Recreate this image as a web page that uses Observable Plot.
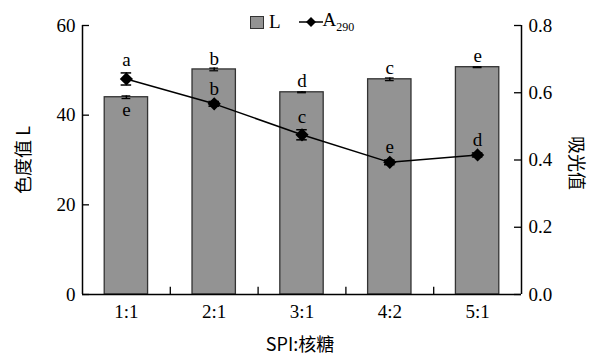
<!DOCTYPE html>
<html><head><meta charset="utf-8">
<script src="https://cdn.jsdelivr.net/npm/d3@7"></script>
<script src="https://cdn.jsdelivr.net/npm/@observablehq/plot@0.6"></script>
<style>
body{margin:0;background:#fff;}
#wrap{position:relative;width:592px;height:356px;font-family:"Liberation Serif",serif;}
#legend{position:absolute;left:250px;top:9px;font-size:19px;display:flex;align-items:center;}
.sw{width:12px;height:11px;background:#939393;border:1px solid #333;display:inline-block;}
</style></head>
<body><div id="wrap"><div id="chart"></div>
<div id="legend"><span class="sw"></span><span style="margin-left:5px">L</span>
<svg width="24" height="12" style="margin-left:18px"><line x1="0" y1="6" x2="24" y2="6" stroke="#000" stroke-width="1.5"/><path d="M12 1 L17 6 L12 11 L7 6Z" fill="#000"/></svg><span>A<sub style="font-size:12px;vertical-align:-5px">290</sub></span></div>
</div>
<script>
const categories = ["1:1","2:1","3:1","4:2","5:1"];
const Lvalues = [44.0, 50.2, 45.1, 48.0, 50.7];
const Lerr = [0.3, 0.3, 0.1, 0.3, 0.1];
const Lletters = ["e","b","d","c","e"];
const Avalues = [0.641, 0.567, 0.475, 0.393, 0.415];
const Aerr = [0.018, 0.007, 0.015, 0.007, 0.006];
const Aletters = ["a","b","c","e","d"];
const leftTicks = [0,20,40,60];
const rightTicks = [0,0.2,0.4,0.6,0.8];

const k = 75; // 0.8 -> 60
const data = categories.map((c,i)=>({i:i+1,c,L:Lvalues[i],le:Lerr[i],ll:Lletters[i],A:Avalues[i]*k,ae:Aerr[i]*k,al:Aletters[i]}));
const serif = "Liberation Serif";
const tk = 0.08; // inward tick length in x units
const chart = Plot.plot({
  width:592, height:356,
  marginLeft:82, marginRight:71, marginTop:25, marginBottom:62,
  style:{fontFamily:serif, fontSize:"19px", color:"#000", background:"#fff"},
  x:{domain:[0.5,5.5]},
  y:{domain:[0,60]},
  marks:[
    Plot.rectY(data,{x1:d=>d.i-0.247,x2:d=>d.i+0.247,y:"L",fill:"#939393",stroke:"#333",strokeWidth:1.3}),
    Plot.ruleX(data,{x:"i",y1:d=>d.L-d.le,y2:d=>d.L+d.le,stroke:"#000",strokeWidth:1.5}),
    Plot.ruleY(data,{x1:d=>d.i-0.05,x2:d=>d.i+0.05,y:d=>d.L+d.le,stroke:"#000",strokeWidth:1.2}),
    Plot.ruleY(data,{x1:d=>d.i-0.05,x2:d=>d.i+0.05,y:d=>d.L-d.le,stroke:"#000",strokeWidth:1.2}),
    Plot.text(data.filter(d=>d.i===1),{x:"i",y:"L",text:"ll",dy:13,fontSize:19,fontFamily:serif}),
    Plot.text(data.filter(d=>d.i!==1),{x:"i",y:"L",text:"ll",dy:-11,fontSize:19,fontFamily:serif}),
    Plot.line(data,{x:"i",y:"A",stroke:"#000",strokeWidth:1.5}),
    Plot.ruleX(data,{x:"i",y1:d=>d.A-d.ae,y2:d=>d.A+d.ae,stroke:"#000",strokeWidth:1.5}),
    Plot.ruleY(data,{x1:d=>d.i-0.06,x2:d=>d.i+0.06,y:d=>d.A+d.ae,stroke:"#000",strokeWidth:1.5}),
    Plot.ruleY(data,{x1:d=>d.i-0.06,x2:d=>d.i+0.06,y:d=>d.A-d.ae,stroke:"#000",strokeWidth:1.5}),
    Plot.dot(data,{x:"i",y:"A",symbol:"diamond2",r:5,fill:"#000",stroke:"#000"}),
    Plot.text(data,{x:"i",y:d=>d.A+d.ae,text:"al",dy:-13,fontSize:19,fontFamily:serif}),
    Plot.ruleX([1.5,2.5,3.5,4.5],{y1:0,y2:1.6,stroke:"#000",strokeWidth:1.3}),
    Plot.ruleY(leftTicks,{x1:0.5,x2:0.5+tk,stroke:"#000",strokeWidth:1.3}),
    Plot.ruleY(rightTicks.map(v=>v*k),{x1:5.5-tk,x2:5.5,stroke:"#000",strokeWidth:1.3}),
    Plot.ruleY([0],{stroke:"#000",strokeWidth:1.5}),
    Plot.axisX({ticks:categories.map((c,i)=>i+1),tickFormat:i=>categories[i-1],tickSize:0,tickPadding:10,label:null,fontSize:19}),
    Plot.axisY({ticks:leftTicks,tickSize:0,tickPadding:7,label:null,fontSize:19}),
    Plot.ruleX([0.5],{stroke:"#000",strokeWidth:1.5}),
    Plot.axisY({anchor:"right",ticks:rightTicks.map(v=>v*k),tickFormat:v=>(v/k).toFixed(1),tickSize:0,tickPadding:7,label:null,fontSize:19}),
    Plot.ruleX([5.5],{stroke:"#000",strokeWidth:1.5})
  ]
});
document.getElementById("chart").appendChild(chart);
const svg = d3.select(chart);
const cjk = "Noto Sans CJK SC";
svg.append("text").attr("transform","translate(25,160) rotate(-90)").attr("text-anchor","middle").attr("dominant-baseline","middle").attr("font-size","18px").attr("font-family",cjk).text("色度值 L");
svg.append("text").attr("transform","translate(575,163) rotate(90)").attr("text-anchor","middle").attr("dominant-baseline","middle").attr("font-size","18px").attr("font-family",cjk).text("吸光值");
svg.append("text").attr("x",300).attr("y",346).attr("text-anchor","middle").attr("dominant-baseline","middle").attr("font-size","18px").attr("font-family",cjk).text("SPI:核糖");
</script></body></html>
